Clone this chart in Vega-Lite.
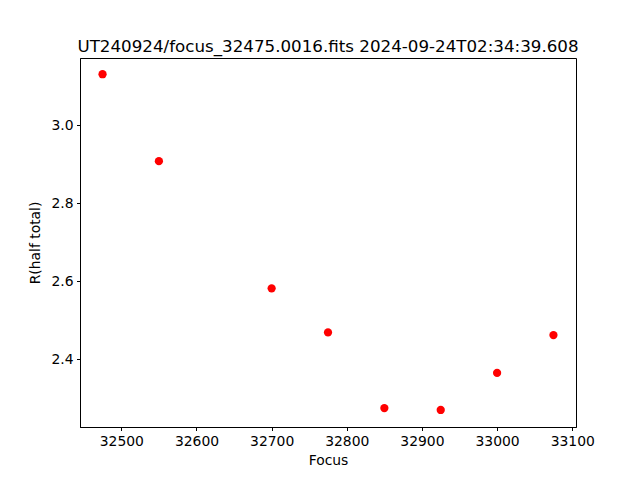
{
  "$schema": "https://vega.github.io/schema/vega-lite/v6.json",
  "width": 496,
  "height": 369,
  "autosize": {"type": "none"},
  "padding": {"left": 80, "top": 58, "right": 64, "bottom": 53},
  "background": "white",
  "title": {
    "text": "UT240924/focus_32475.0016.fits 2024-09-24T02:34:39.608",
    "font": "DejaVu Sans",
    "fontSize": 16.7,
    "fontWeight": "normal",
    "color": "black",
    "anchor": "middle",
    "frame": "group",
    "baseline": "bottom",
    "offset": -15
  },
  "data": {
    "values": [
      {"focus": 32475, "r": 3.131},
      {"focus": 32550, "r": 2.908},
      {"focus": 32700, "r": 2.582},
      {"focus": 32775, "r": 2.469},
      {"focus": 32850, "r": 2.275},
      {"focus": 32925, "r": 2.270},
      {"focus": 33000, "r": 2.365},
      {"focus": 33075, "r": 2.462}
    ]
  },
  "mark": {"type": "point", "filled": true, "shape": "circle", "size": 68, "color": "#ff0000", "opacity": 1},
  "encoding": {
    "x": {
      "field": "focus",
      "type": "quantitative",
      "title": "Focus",
      "scale": {"domain": [32445, 33105], "nice": false, "zero": false},
      "axis": {"values": [32500, 32600, 32700, 32800, 32900, 33000, 33100], "format": "d", "titlePadding": 6}
    },
    "y": {
      "field": "r",
      "type": "quantitative",
      "title": "R(half total)",
      "scale": {"domain": [2.2264, 3.1726], "nice": false, "zero": false},
      "axis": {"values": [2.4, 2.6, 2.8, 3.0], "format": ".1f", "titlePadding": 8}
    }
  },
  "config": {
    "view": {"stroke": "black", "strokeWidth": 1},
    "axis": {
      "grid": false,
      "domainColor": "black",
      "tickColor": "black",
      "tickSize": 3.5,
      "labelPadding": 3.5,
      "labelFont": "DejaVu Sans",
      "labelFontSize": 13.9,
      "labelColor": "black",
      "titleFont": "DejaVu Sans",
      "titleFontSize": 13.9,
      "titleFontWeight": "normal",
      "titleColor": "black",
      "labelFlush": false,
      "labelOverlap": false
    }
  }
}
